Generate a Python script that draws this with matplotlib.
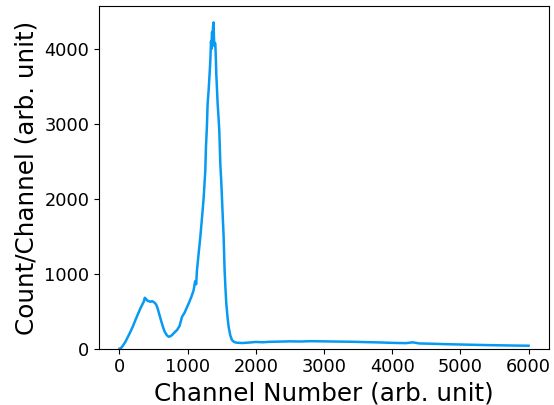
import matplotlib
matplotlib.use('Agg')
import matplotlib.pyplot as plt

# spectrum (channel, counts)
channel = [0, 15, 50, 88, 125, 161, 200, 234, 270, 307, 335, 356, 372, 391, 410,
           430, 455, 479, 505, 527, 548, 567, 590, 615, 640, 664, 695, 722, 745,
           771, 805, 844, 880, 918, 955, 1015, 1054, 1088, 1110, 1125, 1137,
           1160, 1186, 1210, 1234, 1259, 1269, 1282, 1293, 1308, 1322, 1333, 1343,
           1350, 1357, 1365, 1373, 1381, 1386, 1391, 1400, 1406, 1413, 1420, 1430,
           1440, 1452, 1464, 1480, 1492, 1504, 1516, 1528, 1542, 1555, 1567, 1585,
           1601, 1625, 1650, 1680, 1720, 1800, 1900, 2000, 2100, 2200, 2350, 2500,
           2650, 2800, 3000, 3200, 3400, 3600, 3800, 4000, 4200, 4300, 4400, 4600,
           4800, 5000, 5200, 5400, 5600, 5800, 6000]
counts = [0, 0, 40, 93, 160, 226, 305, 382, 460, 538, 590, 626, 680, 662, 640,
          635, 625, 635, 620, 604, 570, 515, 440, 360, 285, 226, 180, 160, 165,
          182, 215, 249, 300, 426, 480, 604, 690, 782, 900, 860, 1048,
          1260, 1491, 1740, 2000, 2380, 2700, 2950, 3268, 3450, 3667, 3850, 4100,
          4000, 4220, 4180, 4300, 4354, 4150, 4040, 4080, 4066, 3900, 3667, 3470,
          3268, 3100, 2912, 2450, 2250, 2000, 1740, 1491, 1048, 800, 604, 420,
          293, 180, 116, 90, 80, 76, 82, 90, 86, 92, 95, 98, 96, 100, 98, 95,
          93, 88, 84, 78, 74, 85, 70, 66, 60, 56, 52, 48, 45, 42, 40]

fig = plt.figure(figsize=(5.54, 4.05), dpi=100)
ax = fig.add_axes([0.1787, 0.139, 0.8123, 0.846])

ax.plot(channel, counts, color='#069AF3', linewidth=1.8)

ax.set_ylim(bottom=0)
ax.set_xlabel("Channel Number (arb. unit)", fontsize=17.7)
ax.set_ylabel("Count/Channel (arb. unit)", fontsize=17.7)
ax.tick_params(labelsize=12.8)

fig.savefig("out.png", dpi=100)
